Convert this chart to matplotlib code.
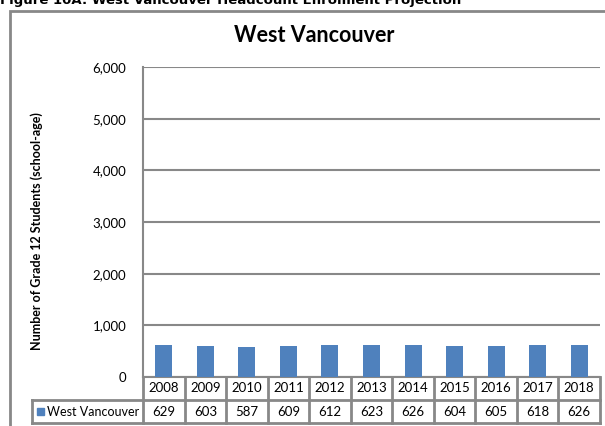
import matplotlib
matplotlib.use("Agg")
import matplotlib.pyplot as plt
from matplotlib.patches import Rectangle
import matplotlib.transforms as mtransforms

# data
years = ["2008", "2009", "2010", "2011", "2012", "2013", "2014", "2015", "2016", "2017", "2018"]
headcount = [629, 603, 587, 609, 612, 623, 626, 604, 605, 618, 626]
series_name = "West Vancouver"
y_ticks = [0, 1000, 2000, 3000, 4000, 5000, 6000]

plt.rcParams["font.family"] = ["Lato", "DejaVu Sans"]

W, H = 605, 426
bar_color = "#4F81BD"
line_grey = "#888888"

fig = plt.figure(figsize=(W / 100, H / 100), dpi=100)
fig.patch.set_facecolor("white")

# outer chart frame (cut off on the right and bottom, like the source)
fig.patches.append(Rectangle((9.5 / W, -0.1), 1.2, 1.1 - 11 / H, transform=fig.transFigure,
                             fill=False, edgecolor=line_grey, linewidth=2))

# page caption, mostly cropped at the top
fig.text(0.0, 1 - 4 / H, "Figure 10A: West Vancouver Headcount Enrolment Projection",
         family="DejaVu Sans", weight="bold", fontsize=9.5, va="baseline", ha="left")

# plot area in pixels: x 143..600, y 67..377
left, right, top, bottom = 143, 600, 67, 377
ax = fig.add_axes([left / W, 1 - bottom / H, (right - left) / W, (bottom - top) / H])

x = list(range(len(years)))
ax.bar(x, headcount, width=0.41, color=bar_color, zorder=3)

ax.set_xlim(-0.5, len(years) - 0.5)
ax.set_ylim(0, 6000)
ax.set_yticks(y_ticks)
ax.set_yticklabels([f"{v:,}" for v in y_ticks], fontsize=9.5)
ax.set_xticks([])
ax.tick_params(axis="y", length=0, pad=12)
ax.grid(axis="y", color=line_grey, linewidth=1.5, zorder=0)
for side in ["top", "right"]:
    ax.spines[side].set_visible(False)
ax.spines["left"].set_color(line_grey)
ax.spines["left"].set_linewidth(1.5)
ax.spines["bottom"].set_color(line_grey)
ax.spines["bottom"].set_linewidth(1.5)

ax.set_ylabel("Number of Grade 12 Students (school-age)", fontsize=9, weight="bold", labelpad=0)
ax.yaxis.set_label_coords((43 - left) / (right - left), 0.47)

fig.text(314 / W, 1 - 42 / H, "West Vancouver", fontsize=15.5, weight="bold",
         ha="center", va="baseline")

# data table under the axis
trans = mtransforms.blended_transform_factory(ax.transData, ax.transAxes)
ph = bottom - top
row1 = -23 / ph
row2 = -46 / ph
x0 = -0.5 - (left - 32) / ((right - left) / len(years))
lw = 2
for i in range(len(years) + 1):
    ax.plot([i - 0.5, i - 0.5], [0, row2], transform=trans, color=line_grey, lw=lw, clip_on=False)
ax.plot([x0, len(years) - 0.5], [row1, row1], transform=trans, color=line_grey, lw=lw, clip_on=False)
ax.plot([x0, len(years) - 0.5], [row2, row2], transform=trans, color=line_grey, lw=lw, clip_on=False)
ax.plot([x0, x0], [row1, row2], transform=trans, color=line_grey, lw=lw, clip_on=False)

for i, (yr, v) in enumerate(zip(years, headcount)):
    ax.text(i, row1 / 2, yr, transform=trans, ha="center", va="center", fontsize=9.5)
    ax.text(i, (row1 + row2) / 2, str(v), transform=trans, ha="center", va="center", fontsize=9.5)

# legend key inside the table
ax.add_patch(Rectangle((x0 + 0.12, (row1 + row2) / 2 - 0.011), 0.17, 0.022, transform=trans,
                       color=bar_color, clip_on=False))
ax.text(x0 + 0.37, (row1 + row2) / 2, series_name, transform=trans, ha="left", va="center",
        fontsize=9)

fig.savefig("out.png", dpi=100, facecolor="white")
